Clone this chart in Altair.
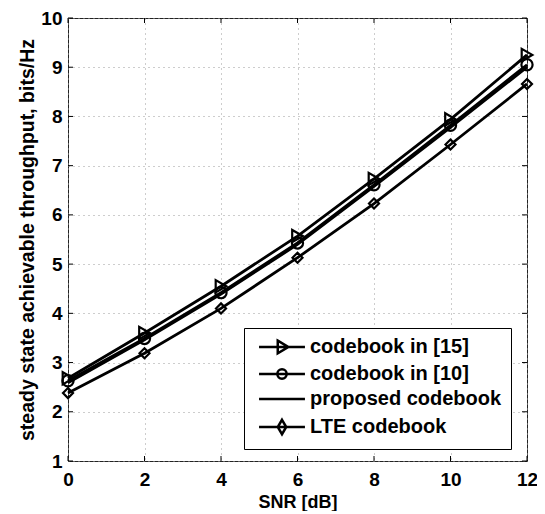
import altair as alt
import pandas as pd

snr = [0, 2, 4, 6, 8, 10, 12]
cb15 = [2.68, 3.60, 4.55, 5.57, 6.73, 7.94, 9.25]
cb10 = [2.63, 3.49, 4.42, 5.43, 6.61, 7.82, 9.05]
proposed = [2.59, 3.46, 4.39, 5.40, 6.58, 7.78, 9.00]
lte = [2.38, 3.19, 4.10, 5.13, 6.23, 7.43, 8.66]

series_names = ["codebook in [15]", "codebook in [10]", "proposed codebook", "LTE codebook"]
series_values = [cb15, cb10, proposed, lte]
marker_series = ["codebook in [15]", "codebook in [10]", "LTE codebook"]
marker_shapes = ["triangle-right", "circle", "diamond"]
legend_paths = [
    "M-2.7,0H2.7M-0.5,-0.75L0.75,0L-0.5,0.75Z",
    "M-2.7,0H2.7M0.55,0A0.55,0.55 0 1,1 -0.55,0A0.55,0.55 0 1,1 0.55,0Z",
    "M-2.7,0H2.7",
    "M-2.7,0H2.7M0,-0.85L0.5,0L0,0.85L-0.5,0Z",
]

x_ticks = [0, 2, 4, 6, 8, 10, 12]
y_ticks = [1, 2, 3, 4, 5, 6, 7, 8, 9, 10]

rows = []
for name, vals in zip(series_names, series_values):
    for s, v in zip(snr, vals):
        rows.append({"snr": s, "thr": v, "series": name})
df = pd.DataFrame(rows)

W, H = 459, 443
FONT = "Liberation Sans"

xscale = alt.Scale(domain=[0, 12], nice=False)
yscale = alt.Scale(domain=[1, 10], nice=False)

xax = alt.Axis(values=x_ticks, grid=True, gridDash=[1, 4], gridColor="#9a9a9a",
               gridWidth=1, domain=False, ticks=False, labelPadding=9,
               labelFont=FONT, labelFontWeight="bold", labelFontSize=19, labelColor="black",
               title="SNR [dB]", titleFont=FONT, titleFontWeight="bold", titleFontSize=18,
               titleColor="black", titlePadding=4, labelFlush=False)
yax = alt.Axis(values=y_ticks, grid=True, gridDash=[1, 4], gridColor="#9a9a9a",
               gridWidth=1, domain=False, ticks=False, labelPadding=6,
               labelFont=FONT, labelFontWeight="bold", labelFontSize=19, labelColor="black",
               title="steady state achievable throughput, bits/Hz", titleFont=FONT,
               titleFontWeight="bold", titleFontSize=19.5, titleColor="black", titlePadding=3,
               labelFlush=False)

base = alt.Chart(df)

lines = base.mark_line(color="black", strokeWidth=2.8).encode(
    x=alt.X("snr:Q", scale=xscale, axis=xax),
    y=alt.Y("thr:Q", scale=yscale, axis=yax),
    detail="series:N",
)

points = base.transform_filter(
    alt.FieldOneOfPredicate(field="series", oneOf=marker_series)
).mark_point(color="black", filled=False, strokeWidth=2.2, opacity=1).encode(
    x=alt.X("snr:Q", scale=xscale),
    y=alt.Y("thr:Q", scale=yscale),
    shape=alt.Shape("series:N", scale=alt.Scale(domain=marker_series, range=marker_shapes),
                    legend=None),
    size=alt.Size("series:N", scale=alt.Scale(domain=marker_series, range=[150, 100, 130]),
                  legend=None),
)

legend_layer = base.transform_filter("datum.snr < -100").mark_point(
    color="black", filled=False, strokeWidth=2.5, opacity=1
).encode(
    x=alt.X("snr:Q", scale=xscale),
    y=alt.Y("thr:Q", scale=yscale),
    shape=alt.Shape(
        "series:N",
        scale=alt.Scale(domain=series_names, range=legend_paths),
        legend=alt.Legend(
            title=None, orient="none", legendX=176, legendY=310,
            fillColor="white", strokeColor="black", padding=9,
            symbolSize=289, symbolStrokeWidth=2.5, symbolStrokeColor="black",
            symbolFillColor="transparent", symbolOpacity=1, symbolOffset=19,
            labelFont=FONT, labelFontWeight="bold", labelFontSize=20,
            labelColor="black", labelOffset=18, rowPadding=5,
            labelLimit=400,
        ),
    ),
)

tick_x = pd.DataFrame({"v": x_ticks})
tick_y = pd.DataFrame({"v": y_ticks})
tb = alt.Chart(tick_x).mark_rule(color="black", strokeWidth=1).encode(
    x=alt.X("v:Q", scale=xscale), y=alt.value(H), y2=alt.value(H - 5))
tt = alt.Chart(tick_x).mark_rule(color="black", strokeWidth=1).encode(
    x=alt.X("v:Q", scale=xscale), y=alt.value(0), y2=alt.value(5))
tl = alt.Chart(tick_y).mark_rule(color="black", strokeWidth=1).encode(
    y=alt.Y("v:Q", scale=yscale), x=alt.value(0), x2=alt.value(5))
tr = alt.Chart(tick_y).mark_rule(color="black", strokeWidth=1).encode(
    y=alt.Y("v:Q", scale=yscale), x=alt.value(W), x2=alt.value(W - 5))

chart = alt.layer(tb, tt, tl, tr, lines, points, legend_layer).resolve_scale(
    shape="independent", size="independent"
).properties(
    width=W, height=H,
    autosize=alt.AutoSizeParams(type="none"),
    padding={"left": 60, "top": 10, "right": 10, "bottom": 50},
    background="white",
).configure_view(stroke="#222", strokeWidth=1)

chart.save("out.html", embed_options={"renderer": "svg", "actions": False})
